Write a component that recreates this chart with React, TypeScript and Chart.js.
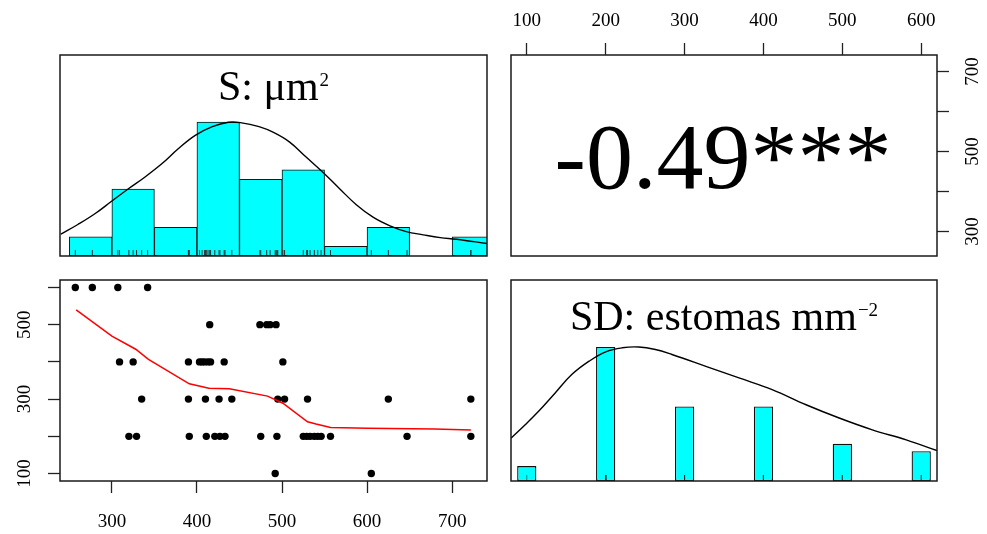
import React, { useEffect, useRef } from 'react';
import { Chart, registerables } from 'chart.js';

Chart.register(...registerables);

const W = 987;
const H = 534;
const FONT = '"Liberation Serif", "Times New Roman", serif';

// ---------- data ----------
// paired observations: S (µm²) and SD (estomas mm⁻²)
const sValues = [
  257, 277, 307, 342,
  415, 474, 482, 486, 493,
  309, 325, 390, 403, 406, 409, 413, 416, 432, 501,
  335, 390, 410, 426, 441, 495, 503, 530, 625, 722,
  320, 329, 391, 411, 421, 427, 433, 475, 494, 525, 529, 533, 538, 542, 546, 557, 647, 722,
  492, 605,
];
const sdValues = [
  600, 600, 600, 600,
  500, 500, 500, 500, 500,
  400, 400, 400, 400, 400, 400, 400, 400, 400, 400,
  300, 300, 300, 300, 300, 300, 300, 300, 300, 300,
  200, 200, 200, 200, 200, 200, 200, 200, 200, 200, 200, 200, 200, 200, 200, 200, 200, 200,
  100, 100,
];

// histogram of S
const sBinEdges = [250, 300, 350, 400, 450, 500, 550, 600, 650, 700, 750];
const sBinCounts = [2, 7, 3, 14, 8, 9, 1, 3, 0, 2];

// frequency table of SD
const sdLevels = [100, 200, 300, 400, 500, 600];
const sdCounts = [2, 18, 10, 10, 5, 4];

// density curves (scaled to max 1)
const sDensX = [240, 260, 280, 300, 319, 339, 359, 378, 398, 418, 437, 451, 473, 490, 509, 528, 548, 568, 587, 607, 627, 646, 666, 686, 705, 741];
const sDensY = [0.163, 0.235, 0.315, 0.41, 0.5, 0.59, 0.69, 0.8, 0.9, 0.965, 0.998, 0.995, 0.965, 0.922, 0.85, 0.74, 0.625, 0.5, 0.385, 0.29, 0.225, 0.182, 0.158, 0.137, 0.125, 0.093];
const sdDensX = [80, 98, 115, 136, 157, 179, 200, 221, 242, 263, 284, 327, 369, 411, 454, 496, 538, 581, 620];
const sdDensY = [0.32, 0.42, 0.52, 0.657, 0.794, 0.894, 0.964, 0.994, 1.0, 0.981, 0.944, 0.856, 0.769, 0.682, 0.569, 0.47, 0.382, 0.307, 0.227];

// loess smooth of SD on S
const loessS = [258, 300, 328, 343, 391, 414, 438, 483, 501, 530, 540, 557, 601, 679, 722];
const loessSD = [540, 469, 434, 407, 341, 329, 328, 308, 289, 239, 233, 224, 222, 220, 217];

// axes
const sRange = [239, 741];
const sdRange = [80, 620];
const sTicks = [300, 400, 500, 600, 700];
const sdTicks = [100, 200, 300, 400, 500, 600];
const sdTicksLabelled = [100, 300, 500];
const sRightTicks = [300, 400, 500, 600, 700];
const sRightLabelled = [300, 500, 700];

// texts
const corrLabel = '-0.49***';
const sTitleMain = 'S: μm';
const sTitleSup = '2';
const sdTitleMain = 'SD: estomas mm';
const sdTitleSup = '−2';

// ---------- layout ----------
type Box = { l: number; t: number; r: number; b: number };
const BOX_TL: Box = { l: 60, t: 55, r: 487, b: 256 };
const BOX_TR: Box = { l: 511, t: 55, r: 937, b: 256 };
const BOX_BL: Box = { l: 60, t: 280, r: 487, b: 481 };
const BOX_BR: Box = { l: 511, t: 280, r: 937, b: 481 };

const padOf = (b: Box) => ({ left: b.l, top: b.t, right: W - b.r, bottom: H - b.b });
const fixSize = (size: number) => (s: any) => {
  if (s.isHorizontal()) s.height = size;
  else s.width = size;
};
const setTicks = (vals: number[]) => (s: any) => {
  s.ticks = vals.map((v) => ({ value: v }));
};

const tickFont = { family: FONT, size: 19 };
const gridOpts = {
  display: true,
  drawOnChartArea: false,
  drawTicks: true,
  tickLength: 12,
  tickColor: '#222',
  tickWidth: 1.3,
};

const boxPlugin = {
  id: 'panelBox',
  afterDraw(chart: any) {
    const { ctx, chartArea: a } = chart;
    ctx.save();
    ctx.strokeStyle = '#1a1a1a';
    ctx.lineWidth = 1.5;
    ctx.strokeRect(a.left, a.top, a.right - a.left, a.bottom - a.top);
    ctx.restore();
  },
};

function titlePlugin(main: string, sup: string, baselineFromTop: number) {
  return {
    id: 'panelTitle',
    afterDraw(chart: any) {
      const { ctx, chartArea: a } = chart;
      const mainFont = `42px ${FONT}`;
      const supFont = `19px ${FONT}`;
      ctx.save();
      ctx.fillStyle = '#000';
      ctx.textAlign = 'left';
      ctx.textBaseline = 'alphabetic';
      ctx.font = mainFont;
      const w1 = ctx.measureText(main).width;
      ctx.font = supFont;
      const w2 = ctx.measureText(sup).width;
      const cx = (a.left + a.right) / 2;
      const x0 = cx - (w1 + w2 + 1) / 2;
      const by = a.top + baselineFromTop;
      ctx.font = mainFont;
      ctx.fillText(main, x0, by);
      ctx.font = supFont;
      ctx.fillText(sup, x0 + w1 + 1, by - 14);
      ctx.restore();
    },
  };
}

const corrPlugin = {
  id: 'corrText',
  afterDraw(chart: any) {
    const { ctx, chartArea: a } = chart;
    const size = 94;
    ctx.save();
    ctx.fillStyle = '#000';
    ctx.font = `${size}px ${FONT}`;
    ctx.textAlign = 'center';
    ctx.textBaseline = 'alphabetic';
    const cx = (a.left + a.right) / 2;
    const cy = (a.top + a.bottom) / 2;
    ctx.fillText(corrLabel, cx - 1, cy + 0.338 * size + 1);
    ctx.restore();
  },
};

const baseOptions = (padding: any) => ({
  responsive: false,
  animation: false as const,
  events: [] as any[],
  devicePixelRatio: 1,
  layout: { padding },
  plugins: { legend: { display: false }, tooltip: { enabled: false }, title: { display: false } },
});

// ---------- chart configs ----------
function configTL(): any {
  const centers = sBinCounts.map((_, i) => (sBinEdges[i] + sBinEdges[i + 1]) / 2);
  const maxC = Math.max(...sBinCounts);
  return {
    type: 'bar',
    data: {
      datasets: [
        {
          type: 'scatter',
          data: sValues.map((x) => ({ x, y: 0 })),
          pointStyle: 'line',
          pointRotation: 90,
          pointRadius: 6,
          pointBorderColor: '#333',
          pointBorderWidth: 1,
          clip: 0,
          order: 0,
        },
        {
          type: 'line',
          data: sDensX.map((x, i) => ({ x, y: sDensY[i] })),
          borderColor: '#000',
          borderWidth: 1.4,
          pointRadius: 0,
          tension: 0.4,
          fill: false,
          order: 1,
        },
        {
          type: 'bar',
          data: centers.map((x, i) => ({ x, y: sBinCounts[i] / maxC })),
          backgroundColor: '#00FFFF',
          borderColor: '#111',
          borderWidth: 1,
          borderSkipped: false,
          barPercentage: 1,
          categoryPercentage: 1,
          order: 2,
        },
      ],
    },
    options: {
      ...baseOptions(padOf(BOX_TL)),
      scales: {
        x: {
          type: 'linear',
          min: sRange[0],
          max: sRange[1],
          display: false,
          offset: false,
          afterBuildTicks: setTicks(sBinEdges),
        },
        y: { type: 'linear', min: 0, max: 1.5, display: false },
      },
    },
    plugins: [boxPlugin, titlePlugin(sTitleMain, sTitleSup, 45)],
  };
}

function configBR(): any {
  const maxC = Math.max(...sdCounts);
  return {
    type: 'bar',
    data: {
      datasets: [
        {
          type: 'scatter',
          data: sdValues.map((x) => ({ x, y: 0 })),
          pointStyle: 'line',
          pointRotation: 90,
          pointRadius: 6,
          pointBorderColor: 'rgba(40,40,40,0.3)',
          pointBorderWidth: 1,
          clip: 0,
          order: 0,
        },
        {
          type: 'line',
          data: sdDensX.map((x, i) => ({ x, y: sdDensY[i] })),
          borderColor: '#000',
          borderWidth: 1.4,
          pointRadius: 0,
          tension: 0.4,
          fill: false,
          order: 1,
        },
        {
          type: 'bar',
          data: sdLevels.map((x, i) => ({ x, y: sdCounts[i] / maxC })),
          backgroundColor: '#00FFFF',
          borderColor: '#111',
          borderWidth: 1.3,
          borderSkipped: false,
          barPercentage: 0.244,
          categoryPercentage: 1,
          order: 2,
        },
      ],
    },
    options: {
      ...baseOptions(padOf(BOX_BR)),
      scales: {
        x: {
          type: 'linear',
          min: sdRange[0],
          max: sdRange[1],
          display: false,
          offset: false,
          afterBuildTicks: setTicks(sdLevels),
        },
        y: { type: 'linear', min: 0, max: 1.5, display: false },
      },
    },
    plugins: [boxPlugin, titlePlugin(sdTitleMain, sdTitleSup, 50)],
  };
}

function configBL(): any {
  const b = BOX_BL;
  return {
    type: 'scatter',
    data: {
      datasets: [
        {
          type: 'line',
          data: loessS.map((x, i) => ({ x, y: loessSD[i] })),
          borderColor: '#FF0000',
          borderWidth: 1.5,
          pointRadius: 0,
          fill: false,
          tension: 0,
          order: 0,
        },
        {
          data: sValues.map((x, i) => ({ x, y: sdValues[i] })),
          pointRadius: 3.7,
          pointBackgroundColor: '#000',
          pointBorderWidth: 0,
          order: 1,
        },
      ],
    },
    options: {
      ...baseOptions({ left: 0, top: b.t, right: W - b.r, bottom: 0 }),
      scales: {
        x: {
          type: 'linear',
          position: 'bottom',
          min: sRange[0],
          max: sRange[1],
          afterBuildTicks: setTicks(sTicks),
          afterFit: fixSize(H - b.b),
          grid: gridOpts,
          border: { display: false },
          ticks: {
            font: tickFont,
            color: '#000',
            padding: 18,
            autoSkip: false,
            minRotation: 0,
            maxRotation: 0,
            callback: (v: number) => String(v),
          },
        },
        y: {
          type: 'linear',
          position: 'left',
          min: sdRange[0],
          max: sdRange[1],
          afterBuildTicks: setTicks(sdTicks),
          afterFit: fixSize(b.l),
          grid: gridOpts,
          border: { display: false },
          ticks: {
            font: tickFont,
            color: '#000',
            padding: 9,
            autoSkip: false,
            minRotation: 90,
            maxRotation: 90,
            crossAlign: 'center',
            callback: (v: number) => (sdTicksLabelled.includes(v) ? String(v) : ''),
          },
        },
      },
    },
    plugins: [boxPlugin],
  };
}

function configTR(): any {
  const b = BOX_TR;
  return {
    type: 'scatter',
    data: { datasets: [{ data: [] as any[] }] },
    options: {
      ...baseOptions({ left: b.l, top: 0, right: 0, bottom: H - b.b }),
      scales: {
        x: {
          type: 'linear',
          position: 'top',
          display: true,
          min: sdRange[0],
          max: sdRange[1],
          afterBuildTicks: setTicks(sdTicks),
          afterFit: fixSize(b.t),
          grid: gridOpts,
          border: { display: false },
          ticks: {
            font: tickFont,
            color: '#000',
            padding: 11,
            autoSkip: false,
            minRotation: 0,
            maxRotation: 0,
            callback: (v: number) => String(v),
          },
        },
        y: {
          type: 'linear',
          position: 'right',
          display: true,
          min: sRange[0],
          max: sRange[1],
          afterBuildTicks: setTicks(sRightTicks),
          afterFit: fixSize(W - b.r),
          grid: gridOpts,
          border: { display: false },
          ticks: {
            font: tickFont,
            color: '#000',
            padding: 10,
            autoSkip: false,
            minRotation: 90,
            maxRotation: 90,
            crossAlign: 'center',
            callback: (v: number) => (sRightLabelled.includes(v) ? String(v) : ''),
          },
        },
      },
    },
    plugins: [boxPlugin, corrPlugin],
  };
}

function Panel({ make }: { make: () => any }) {
  const ref = useRef<HTMLCanvasElement | null>(null);
  useEffect(() => {
    if (!ref.current) return;
    const chart = new Chart(ref.current, make());
    return () => chart.destroy();
  }, [make]);
  return (
    <canvas
      ref={ref}
      width={W}
      height={H}
      style={{ position: 'absolute', left: 0, top: 0, width: W, height: H }}
    />
  );
}

export default function App() {
  return (
    <div style={{ position: 'absolute', left: 0, top: 0, width: W, height: H, background: '#fff' }}>
      <Panel make={configTL} />
      <Panel make={configTR} />
      <Panel make={configBL} />
      <Panel make={configBR} />
    </div>
  );
}
